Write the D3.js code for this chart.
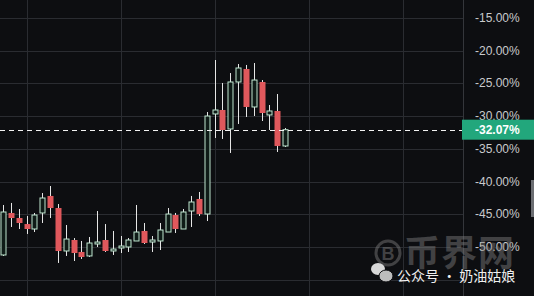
<!DOCTYPE html>
<html>
<head>
<meta charset="utf-8">
<script src="https://cdn.jsdelivr.net/npm/d3@7"></script>
<style>
  body { margin: 0; background: #0d0e11; overflow: hidden; }
  svg { display: block; }
</style>
</head>
<body>
<div id="chart-area"></div>
<script>
// candle values in percent, left to right
var opens  = [-51.22,-44.80,-45.57,-46.49,-47.25,-44.80,-42.20,-44.04,-50.61,-48.93,-50.76,-51.37,-49.54,-48.93,-50.61,-50.15,-50.00,-49.08,-47.55,-49.24,-49.08,-47.71,-45.11,-47.25,-44.50,-42.66,-44.96,-29.67,-29.06,-31.96,-24.78,-22.79,-28.60,-24.78,-29.82,-29.21,-34.56];
var highs  = [-43.58,-43.27,-44.19,-45.26,-44.80,-41.75,-40.68,-43.43,-46.64,-48.63,-49.08,-48.47,-44.50,-46.49,-47.55,-48.32,-48.63,-43.58,-46.33,-48.32,-46.33,-44.04,-44.80,-44.19,-42.20,-41.59,-29.37,-21.42,-24.93,-23.41,-22.03,-22.18,-21.88,-24.48,-28.30,-26.62,-31.81];
var lows   = [-51.37,-46.94,-47.25,-48.01,-47.71,-46.33,-45.57,-52.44,-51.37,-52.14,-51.83,-51.53,-50.00,-50.76,-51.22,-50.92,-50.76,-49.08,-49.54,-50.76,-50.46,-47.71,-47.86,-47.25,-46.94,-45.26,-46.03,-33.34,-33.49,-35.63,-31.20,-30.13,-29.98,-30.74,-32.12,-35.48,-34.72];
var closes = [-44.65,-45.57,-46.33,-47.25,-45.11,-42.51,-44.04,-50.61,-48.78,-50.92,-51.53,-49.39,-49.24,-50.61,-50.31,-49.85,-48.93,-47.71,-49.39,-48.93,-47.40,-44.96,-47.25,-44.65,-43.12,-44.96,-29.98,-29.06,-32.12,-24.78,-22.64,-28.60,-24.48,-29.52,-29.21,-34.56,-32.07];

var tickValues = [-15,-20,-25,-30,-35,-40,-45,-50,-55];
var tickLabels = ["-15.00%","-20.00%","-25.00%","-30.00%","-35.00%","-40.00%","-45.00%","-50.00%",""];
var lastPrice = -32.07;
var lastLabel = "-32.07%";
var vGridIdx = [3, 15, 27, 39, 51]; // vertical grid positions in candle index units

var W = 534, H = 296;
var plotRight = 463;

var data = opens.map(function(o, i) {
    return { i: i, o: o, h: highs[i], l: lows[i], c: closes[i] };
});

var svg = d3.select("#chart-area")
    .append("svg")
    .attr("width", W)
    .attr("height", H);

svg.append("rect").attr("width", W).attr("height", H).attr("fill", "#0d0e11");

var x = d3.scaleLinear().domain([0, 36]).range([3, 285]);
var y = d3.scaleLinear().domain([-15, -50]).range([18, 247]);

// grid
svg.selectAll(".hgrid")
    .data(tickValues)
    .enter()
    .append("line")
    .attr("x1", 0).attr("x2", plotRight)
    .attr("y1", function(d){ return Math.round(y(d)) + 0.5; })
    .attr("y2", function(d){ return Math.round(y(d)) + 0.5; })
    .attr("stroke", "#2a2c31")
    .attr("stroke-width", 1);

svg.selectAll(".vgrid")
    .data(vGridIdx)
    .enter()
    .append("line")
    .attr("x1", function(d){ return Math.round(x(d)) + 0.5; })
    .attr("x2", function(d){ return Math.round(x(d)) + 0.5; })
    .attr("y1", 0).attr("y2", H)
    .attr("stroke", "#2a2c31");

svg.append("line")
    .attr("x1", plotRight + 0.5).attr("x2", plotRight + 0.5)
    .attr("y1", 0).attr("y2", H)
    .attr("stroke", "#34363b");

// candles
var candles = svg.append("g");

candles.selectAll(".wick")
    .data(data)
    .enter()
    .append("line")
    .attr("x1", function(d){ return Math.round(x(d.i)) + 0.5; })
    .attr("x2", function(d){ return Math.round(x(d.i)) + 0.5; })
    .attr("y1", function(d){ return y(d.h); })
    .attr("y2", function(d){ return y(d.l); })
    .attr("stroke", "#e6e6e6")
    .attr("stroke-width", 1);

candles.selectAll(".body")
    .data(data)
    .enter()
    .append("rect")
    .attr("x", function(d){ return d.c >= d.o ? Math.round(x(d.i)) - 2 : Math.round(x(d.i)) - 2.5; })
    .attr("width", function(d){ return d.c >= d.o ? 5 : 6; })
    .attr("y", function(d){ return y(Math.max(d.o, d.c)); })
    .attr("height", function(d){ return Math.max(1.5, Math.abs(y(d.o) - y(d.c))); })
    .attr("fill", function(d){ return d.c >= d.o ? "#0f1b17" : "#e0585c"; })
    .attr("stroke", function(d){ return d.c >= d.o ? "#bfe6d0" : "none"; })
    .attr("stroke-width", 1);

// y axis labels
svg.selectAll(".ylab")
    .data(tickValues)
    .enter()
    .append("text")
    .attr("x", 475)
    .attr("y", function(d){ return y(d) + 4; })
    .text(function(d, i){ return tickLabels[i]; })
    .attr("fill", "#c9cacc")
    .style("font-family", "Liberation Sans, Arial, sans-serif")
    .style("font-size", "12px");

// last price line and tag
svg.append("line")
    .attr("x1", 0).attr("x2", plotRight)
    .attr("y1", Math.round(y(lastPrice)) + 0.5)
    .attr("y2", Math.round(y(lastPrice)) + 0.5)
    .attr("stroke", "#f2f2f2")
    .attr("stroke-dasharray", "5,4");

svg.append("rect")
    .attr("x", plotRight - 1).attr("y", y(lastPrice) - 10)
    .attr("width", W - plotRight + 1).attr("height", 20)
    .attr("fill", "#22a77c");

svg.append("text")
    .attr("x", 475)
    .attr("y", y(lastPrice) + 4.5)
    .text(lastLabel)
    .attr("fill", "#ffffff")
    .style("font-family", "Liberation Sans, Arial, sans-serif")
    .style("font-size", "12px")
    .style("font-weight", "bold");

// scroll handle on the right edge
svg.append("rect")
    .attr("x", 531).attr("y", 180).attr("width", 3).attr("height", 37)
    .attr("fill", "#6b6d72");

// watermark
var wm = svg.append("g").attr("opacity", 0.45);
wm.append("circle")
    .attr("cx", 388).attr("cy", 253).attr("r", 12)
    .attr("fill", "none").attr("stroke", "#808080").attr("stroke-width", 3);
wm.append("text")
    .attr("x", 388).attr("y", 260)
    .attr("text-anchor", "middle")
    .text("B")
    .attr("fill", "#808080")
    .style("font-family", "Liberation Sans, Arial, sans-serif")
    .style("font-size", "18px")
    .style("font-weight", "bold");
wm.append("text")
    .attr("x", 404).attr("y", 266)
    .text("币界网")
    .attr("fill", "#808080")
    .style("font-family", "Noto Sans CJK SC, sans-serif")
    .style("font-size", "36px")
    .style("font-weight", "bold")
    .style("letter-spacing", "1px");

// wechat-like icon
var icon = svg.append("g");
icon.append("ellipse").attr("cx", 378).attr("cy", 269).attr("rx", 7).attr("ry", 6).attr("fill", "#d8d8d8");
icon.append("ellipse").attr("cx", 386).attr("cy", 276).attr("rx", 7).attr("ry", 6).attr("fill", "#bdbdbd")
    .attr("stroke", "#0d0e11").attr("stroke-width", 1);

svg.append("text")
    .attr("x", 397).attr("y", 281)
    .text("公众号 · 奶油姑娘")
    .attr("fill", "#f0f0f0")
    .style("font-family", "Noto Sans CJK SC, sans-serif")
    .style("font-size", "14px");
</script>
</body>
</html>
